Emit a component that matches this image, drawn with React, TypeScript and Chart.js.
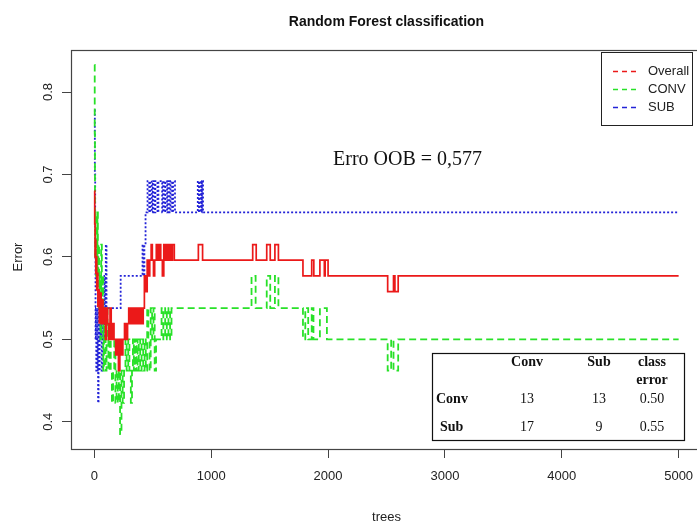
import React, { useEffect, useRef } from "react";
import { Chart, registerables } from "chart.js";

Chart.register(...registerables);

// Out-of-bag error vs. number of trees (change points of each step series)
const overallTrees = [1, 3, 6, 9, 12, 16, 20, 25, 30, 36, 42, 50, 58, 66, 74, 84, 94, 104, 114, 124, 134, 144, 156, 168, 182, 196, 206, 218, 232, 244, 258, 272, 284, 294, 304, 314, 324, 334, 344, 354, 364, 374, 384, 394, 406, 418, 428, 440, 452, 462, 474, 486, 496, 506, 516, 530, 544, 558, 568, 582, 594, 606, 618, 630, 642, 656, 668, 684, 890, 926, 1355, 1385, 1475, 1505, 1545, 1575, 1785, 1860, 1878, 1930, 1968, 1975, 2000, 2510, 2560, 2572, 2600, 5000];
const overallErr = [0.68, 0.64, 0.6, 0.62, 0.58, 0.6, 0.56, 0.58, 0.54, 0.56, 0.52, 0.556, 0.519, 0.548, 0.519, 0.538, 0.5, 0.538, 0.519, 0.5, 0.538, 0.5, 0.519, 0.5, 0.481, 0.5, 0.462, 0.5, 0.481, 0.5, 0.519, 0.5, 0.519, 0.538, 0.519, 0.538, 0.519, 0.538, 0.519, 0.538, 0.519, 0.538, 0.519, 0.538, 0.519, 0.538, 0.577, 0.558, 0.596, 0.577, 0.596, 0.615, 0.596, 0.577, 0.596, 0.615, 0.596, 0.615, 0.596, 0.577, 0.615, 0.596, 0.615, 0.596, 0.615, 0.596, 0.615, 0.596, 0.615, 0.596, 0.615, 0.596, 0.615, 0.596, 0.615, 0.596, 0.577, 0.596, 0.577, 0.596, 0.577, 0.596, 0.577, 0.558, 0.577, 0.558, 0.577, 0.577];

const convTrees = [1, 3, 5, 8, 11, 14, 18, 22, 26, 30, 35, 40, 46, 52, 58, 64, 70, 76, 82, 88, 96, 104, 112, 120, 130, 140, 150, 160, 170, 180, 190, 200, 210, 220, 232, 242, 254, 266, 276, 290, 300, 312, 322, 330, 338, 346, 354, 362, 370, 380, 392, 404, 418, 430, 440, 452, 462, 472, 482, 494, 506, 516, 528, 575, 590, 606, 620, 634, 648, 660, 1345, 1380, 1475, 1505, 1545, 1575, 1785, 1805, 1830, 1860, 1875, 1930, 1990, 2510, 2540, 2560, 2600, 5000];
const convErr = [0.833, 0.75, 0.654, 0.6, 0.654, 0.577, 0.615, 0.577, 0.654, 0.577, 0.615, 0.538, 0.577, 0.5, 0.615, 0.538, 0.577, 0.462, 0.538, 0.5, 0.462, 0.538, 0.5, 0.462, 0.5, 0.462, 0.423, 0.462, 0.5, 0.423, 0.462, 0.423, 0.462, 0.385, 0.462, 0.423, 0.462, 0.5, 0.462, 0.5, 0.462, 0.423, 0.462, 0.5, 0.462, 0.5, 0.462, 0.5, 0.462, 0.5, 0.462, 0.5, 0.462, 0.5, 0.462, 0.538, 0.5, 0.462, 0.538, 0.5, 0.538, 0.462, 0.5, 0.538, 0.5, 0.538, 0.5, 0.538, 0.5, 0.538, 0.577, 0.538, 0.577, 0.538, 0.577, 0.538, 0.5, 0.538, 0.5, 0.538, 0.5, 0.538, 0.5, 0.462, 0.5, 0.462, 0.5, 0.5];

const subTrees = [1, 4, 7, 10, 13, 16, 20, 24, 28, 32, 36, 40, 45, 50, 56, 62, 68, 74, 80, 86, 92, 98, 104, 225, 412, 420, 428, 438, 455, 470, 478, 492, 500, 514, 522, 540, 548, 580, 588, 600, 608, 622, 630, 644, 652, 666, 674, 690, 885, 895, 903, 915, 920, 930, 5000];
const subErr = [0.778, 0.7, 0.615, 0.5, 0.538, 0.462, 0.5, 0.462, 0.538, 0.423, 0.5, 0.462, 0.538, 0.5, 0.538, 0.462, 0.5, 0.538, 0.5, 0.577, 0.538, 0.615, 0.538, 0.577, 0.615, 0.577, 0.615, 0.654, 0.692, 0.654, 0.692, 0.654, 0.692, 0.654, 0.692, 0.654, 0.692, 0.654, 0.692, 0.654, 0.692, 0.654, 0.692, 0.654, 0.692, 0.654, 0.692, 0.654, 0.692, 0.654, 0.692, 0.654, 0.692, 0.654, 0.654];

const xTickValues = [0, 1000, 2000, 3000, 4000, 5000];
const yTickValues = [0.4, 0.5, 0.6, 0.7, 0.8];
const yTickLabels = ["0.4", "0.5", "0.6", "0.7", "0.8"];

const seriesNames = ["Overall", "CONV", "SUB"];
const seriesColors = ["rgb(235,25,25)", "rgb(40,225,40)", "rgb(35,35,215)"];

// Confusion matrix shown inside the plot
const matrixCols = ["Conv", "Sub"];
const matrixRows = ["Conv", "Sub"];
const matrixCounts = [
  [13, 13],
  [17, 9],
];
const classError = ["0.50", "0.55"];
const oobText = "Erro OOB = 0,577";
const titleText = "Random Forest classification";

const SANS = "'Liberation Sans', Arial, sans-serif";
const SERIF = "'Liberation Serif', 'Times New Roman', serif";

const toPoints = (xs: number[], ys: number[]) => xs.map((x, i) => ({ x, y: ys[i] }));

const decorations = {
  id: "rfDecorations",
  afterDraw(chart: any) {
    const { ctx, chartArea: a, scales } = chart;
    ctx.save();

    // plot frame
    ctx.strokeStyle = "#444";
    ctx.lineWidth = 1.2;
    ctx.strokeRect(a.left + 0.5, a.top + 0.5, a.right - a.left, a.bottom - a.top);

    // title
    const cx = (a.left + a.right) / 2;
    ctx.fillStyle = "#111";
    ctx.font = `bold 14px ${SANS}`;
    ctx.textAlign = "center";
    ctx.textBaseline = "middle";
    ctx.fillText(titleText, cx, 22);

    // axis titles
    ctx.font = `13px ${SANS}`;
    ctx.fillStyle = "#222";
    ctx.fillText("trees", cx, 517);
    ctx.save();
    ctx.translate(18, 257);
    ctx.rotate(-Math.PI / 2);
    ctx.fillText("Error", 0, 0);
    ctx.restore();

    // rotated y tick labels
    const ys = scales.y;
    yTickValues.forEach((v, i) => {
      const py = ys.getPixelForValue(v);
      ctx.save();
      ctx.translate(48, py);
      ctx.rotate(-Math.PI / 2);
      ctx.fillText(yTickLabels[i], 0, 0);
      ctx.restore();
    });

    // legend
    ctx.strokeStyle = "#222";
    ctx.lineWidth = 1;
    ctx.strokeRect(601.5, 52.5, 91, 73);
    ctx.font = `13px ${SANS}`;
    ctx.textAlign = "left";
    seriesNames.forEach((name, i) => {
      const ly = 71 + i * 18;
      ctx.strokeStyle = seriesColors[i];
      ctx.lineWidth = 1.3;
      ctx.setLineDash([5, 4]);
      ctx.beginPath();
      ctx.moveTo(613, ly + 0.5);
      ctx.lineTo(638, ly + 0.5);
      ctx.stroke();
      ctx.setLineDash([]);
      ctx.fillStyle = "#222";
      ctx.fillText(name, 648, ly);
    });

    // OOB annotation
    ctx.font = `20px ${SERIF}`;
    ctx.fillStyle = "#111";
    ctx.textAlign = "left";
    ctx.fillText(oobText, 333, 160);

    // confusion matrix table
    ctx.fillStyle = "#fff";
    ctx.fillRect(432, 353, 252, 87);
    ctx.strokeStyle = "#111";
    ctx.lineWidth = 1.2;
    ctx.strokeRect(432.5, 353.5, 252, 87);
    const colX = [527, 599, 652];
    ctx.fillStyle = "#111";
    ctx.textAlign = "center";
    ctx.font = `bold 14px ${SERIF}`;
    ctx.fillText(matrixCols[0], colX[0], 362);
    ctx.fillText(matrixCols[1], colX[1], 362);
    ctx.fillText("class", colX[2], 362);
    ctx.fillText("error", colX[2], 380);
    const rowY = [399, 427];
    matrixRows.forEach((r, i) => {
      ctx.font = `bold 14px ${SERIF}`;
      ctx.textAlign = "left";
      ctx.fillText(r, i === 0 ? 436 : 440, rowY[i]);
      ctx.font = `14px ${SERIF}`;
      ctx.textAlign = "center";
      ctx.fillText(String(matrixCounts[i][0]), colX[0], rowY[i]);
      ctx.fillText(String(matrixCounts[i][1]), colX[1], rowY[i]);
      ctx.fillText(classError[i], colX[2], rowY[i]);
    });

    ctx.restore();
  },
};

export default function App() {
  const ref = useRef<HTMLCanvasElement | null>(null);

  useEffect(() => {
    if (!ref.current) return;
    const dashes = [[], [7, 4], [2, 2]];
    const widths = [1.7, 1.8, 1.8];
    const sets = [
      toPoints(overallTrees, overallErr),
      toPoints(convTrees, convErr),
      toPoints(subTrees, subErr),
    ];
    const chart = new Chart(ref.current, {
      type: "line",
      data: {
        datasets: seriesNames.map((name, i) => ({
          label: name,
          data: sets[i],
          borderColor: seriesColors[i],
          borderWidth: widths[i],
          borderDash: dashes[i],
          stepped: true,
          pointRadius: 0,
          fill: false,
        })),
      },
      options: {
        responsive: false,
        animation: false,
        devicePixelRatio: 1,
        layout: { padding: { left: 0, top: 50, right: 8, bottom: 0 } },
        plugins: {
          legend: { display: false },
          tooltip: { enabled: false },
          title: { display: false },
        },
        scales: {
          x: {
            type: "linear",
            min: -200,
            max: 5200,
            afterBuildTicks: (s: any) => {
              s.ticks = xTickValues.map((v) => ({ value: v }));
            },
            afterFit: (s: any) => {
              s.height = 76;
            },
            border: { display: false },
            grid: {
              display: true,
              drawOnChartArea: false,
              drawTicks: true,
              tickLength: 9,
              color: "#444",
              lineWidth: 1,
            },
            ticks: {
              padding: 11,
              color: "#222",
              font: { family: SANS, size: 13 },
              maxRotation: 0,
              autoSkip: false,
              callback: (v: any) => String(v),
            },
          },
          y: {
            type: "linear",
            min: 0.367,
            max: 0.851,
            afterBuildTicks: (s: any) => {
              s.ticks = yTickValues.map((v) => ({ value: v }));
            },
            afterFit: (s: any) => {
              s.width = 71;
            },
            border: { display: false },
            grid: {
              display: true,
              drawOnChartArea: false,
              drawTicks: true,
              tickLength: 9,
              color: "#444",
              lineWidth: 1,
            },
            ticks: { display: false },
          },
        },
      },
      plugins: [decorations],
    } as any);
    return () => chart.destroy();
  }, []);

  return (
    <div
      style={{
        position: "absolute",
        left: 0,
        top: 0,
        width: 697,
        height: 525,
        overflow: "hidden",
        background: "#fff",
      }}
    >
      <canvas ref={ref} width={710} height={525} style={{ display: "block" }} />
    </div>
  );
}
